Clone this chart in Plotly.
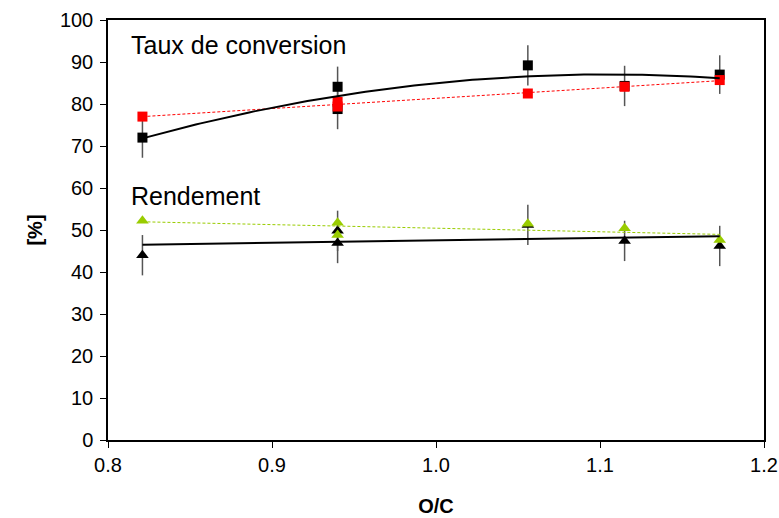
import numpy as np
import plotly.graph_objects as go

# ---- data ----
oc = [0.821, 0.94, 0.94, 1.056, 1.115, 1.173]
conv_black = [72.0, 84.1, 78.8, 89.2, 84.3, 87.0]
conv_black_err = [4.8, 4.8, 4.8, 4.8, 4.8, 4.6]
conv_red = [77.0, 80.5, 79.4, 82.5, 84.1, 85.7]
rend_black = [44.0, 46.9, 49.8, 51.2, 47.4, 46.2]
rend_black_err = [4.8, 4.8, 4.8, 4.8, 4.8, 4.8]
rend_green = [52.2, 51.7, 48.8, 51.5, 50.4, 47.6]

x_ticks = [0.8, 0.9, 1.0, 1.1, 1.2]
x_ticklabels = ["0.8", "0.9", "1.0", "1.1", "1.2"]
y_ticks = list(range(0, 101, 10))

FONT = "Arial, Liberation Sans, sans-serif"
RED = "#ff0000"
GREEN = "#99cc00"
ERR = "#555555"

# trendlines (fits of the data, as in the spreadsheet)
xs = np.linspace(min(oc), max(oc), 120)
fit_conv_black = np.polyval(np.polyfit(oc, conv_black, 2), xs)
fit_conv_red = np.polyval(np.polyfit(oc, conv_red, 1), xs)
fit_rend_black = np.polyval(np.polyfit(oc, rend_black, 1), xs)
fit_rend_green = np.polyval(np.polyfit(oc, rend_green, 1), xs)

fig = go.Figure()

# black markers with error bars
fig.add_trace(go.Scatter(
    x=oc, y=conv_black, mode="markers",
    marker=dict(symbol="square", size=10, color="black"),
    error_y=dict(type="data", array=conv_black_err, color=ERR, thickness=1.5, width=0),
    showlegend=False))
fig.add_trace(go.Scatter(
    x=oc, y=rend_black, mode="markers",
    marker=dict(symbol="triangle-up", size=11, color="black"),
    error_y=dict(type="data", array=rend_black_err, color=ERR, thickness=1.5, width=0),
    showlegend=False))

# coloured markers
fig.add_trace(go.Scatter(
    x=oc, y=conv_red, mode="markers",
    marker=dict(symbol="square", size=10, color=RED),
    showlegend=False))
fig.add_trace(go.Scatter(
    x=oc, y=rend_green, mode="markers",
    marker=dict(symbol="triangle-up", size=11, color=GREEN),
    showlegend=False))

# trendlines
fig.add_trace(go.Scatter(x=xs, y=fit_conv_red, mode="lines",
                         line=dict(color=RED, width=1, dash="3px,2px"), showlegend=False))
fig.add_trace(go.Scatter(x=xs, y=fit_rend_green, mode="lines",
                         line=dict(color=GREEN, width=1, dash="3px,2px"), showlegend=False))
fig.add_trace(go.Scatter(x=xs, y=fit_conv_black, mode="lines",
                         line=dict(color="black", width=2), showlegend=False))
fig.add_trace(go.Scatter(x=xs, y=fit_rend_black, mode="lines",
                         line=dict(color="black", width=2), showlegend=False))

fig.add_annotation(x=0.8125, y=94, text="Taux de conversion", showarrow=False,
                   xanchor="left", yanchor="middle", font=dict(family=FONT, size=25, color="black"))
fig.add_annotation(x=0.8125, y=58, text="Rendement", showarrow=False,
                   xanchor="left", yanchor="middle", font=dict(family=FONT, size=25, color="black"))

fig.update_layout(
    width=779, height=518,
    margin=dict(l=108, r=15, t=20, b=78),
    paper_bgcolor="white", plot_bgcolor="white",
    font=dict(family=FONT, size=20, color="black"),
    xaxis=dict(range=[0.8, 1.2], tickvals=x_ticks, ticktext=x_ticklabels, automargin=False,
               showgrid=False, zeroline=False, showline=True, linecolor="black", linewidth=1.5,
               mirror=True, ticks="outside", ticklen=6, tickcolor="black",
               title=dict(text="<b>O/C</b>", font=dict(size=20), standoff=24)),
    yaxis=dict(range=[0, 100], tickvals=y_ticks, automargin=False, ticklabelstandoff=3,
               showgrid=False, zeroline=False, showline=True, linecolor="black", linewidth=1.5,
               mirror=True, ticks="outside", ticklen=6, tickcolor="black",
               title=dict(text="<b>[%]</b>", font=dict(size=20), standoff=12)),
)

fig.write_html("out.html", config={"displayModeBar": False},
               post_script="document.body.style.margin='0';")
